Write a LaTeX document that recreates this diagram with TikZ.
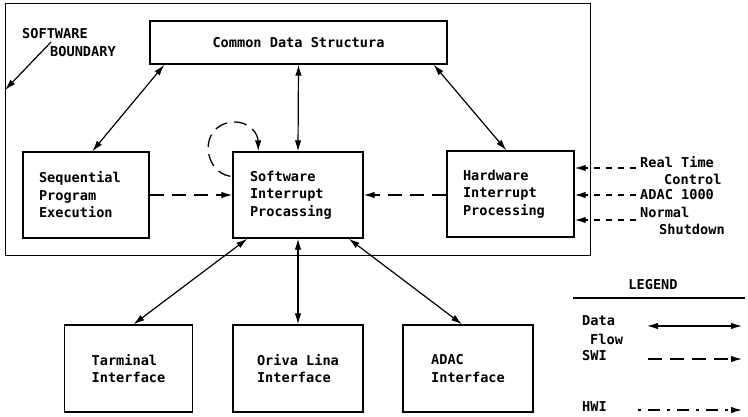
\documentclass[tikz,border=0pt]{standalone}
\usepackage{fontspec}
\newfontfamily\plotfont{DejaVu Sans Mono}
\usetikzlibrary{arrows.meta,calc}
\begin{document}
\begin{tikzpicture}[x=1pt,y=-1pt,
  txt/.style={font=\plotfont\bfseries\fontsize{13.6}{17.5}\selectfont, inner sep=0pt},
  boxed/.style={draw, line width=1.4pt, txt},
  lbox/.style={boxed, align=left, inner xsep=16pt, inner ysep=0pt},
  cbox/.style={boxed, align=left, minimum width=128pt, minimum height=87pt},
  dflow/.style={line width=1.2pt, {Latex[length=11pt,width=6.5pt]}-{Latex[length=11pt,width=6.5pt]}},
  swi/.style={line width=1.3pt, dash pattern=on 14pt off 8pt, -{Latex[length=11pt,width=6.5pt]}},
  inp/.style={line width=1.3pt, dash pattern=on 6pt off 6pt, -{Latex[length=11pt,width=6.5pt]}},
  hwi/.style={line width=1.3pt, dash pattern=on 3pt off 7pt on 12pt off 7pt, -{Latex[length=11pt,width=6.5pt]}}
]
\useasboundingbox (0,0) rectangle (748,416);
\fill[white] (0,0) rectangle (748,416);

% software boundary
\node[draw, line width=1.4pt, minimum width=585pt, minimum height=252pt, anchor=north west, inner sep=0pt] (boundary) at (5,3) {};
\node[txt, anchor=west] (swlab) at (22,34) {SOFTWARE};
\node[txt, anchor=west] (bdlab) at (50,52) {BOUNDARY};
\coordinate (bdstart) at (51,42);
\draw[line width=1.2pt, -{Latex[length=11pt,width=6.5pt]}] (bdstart) -- (boundary.west |- 0,90);

% boxes
\node[boxed, minimum width=297pt, minimum height=43pt] (common) at (298.5,42.5) {Common Data Structura};
\node[lbox, text width=94pt, minimum height=86pt] (seq) at (86,195) {Sequential\\Program\\Execution};
\node[lbox, inner xsep=17pt, text width=96pt, minimum height=86pt] (sw) at (298,195) {Software\\Interrupt\\Procassing};
\node[lbox, text width=95pt, minimum height=86pt] (hw) at (510.5,194) {Hardware\\Interrupt\\Processing};
\node[cbox] (term) at (128.5,368.5) {Tarminal\\Interface};
\node[cbox, minimum width=130pt] (drv) at (298,368.5) {Oriva Lina\\Interface};
\node[cbox, minimum width=130pt] (adac) at (468,368.5) {ADAC\\Interface};

% data flows
\draw[dflow] ($(common.south west)+(15,0)$) -- ($(seq.north west)+(70,0)$);
\draw[dflow] (common.south) -- (sw.north);
\draw[dflow] ($(common.south east)+(-14,0)$) -- ($(hw.north west)+(60,0)$);
\draw[dflow] ($(sw.south west)+(15,0)$) -- ($(term.north)+(5,0)$);
\draw[dflow] (sw.south) -- (drv.north);
\draw[dflow] ($(sw.south east)+(-15,0)$) -- ($(adac.north)+(-6,0)$);

% software interrupts
\draw[swi] (seq.east) -- (sw.west);
\draw[swi] (hw.west |- sw.east) -- (sw.east);
\draw[line width=1.3pt, dash pattern=on 13pt off 7pt, -{Latex[length=11pt,width=6.5pt]}]
  ($(sw.north west)+(-2,25)$) .. controls (203,172) and (198,126) .. (232,122)
  .. controls (250,121) and (258,134) .. ($(sw.north west)+(26,0)$);

% hardware inputs
\coordinate (in1) at (636,168);
\coordinate (in2) at (636,195);
\coordinate (in3) at (636,220);
\draw[inp] (in1) -- (hw.east |- in1);
\draw[inp] (in2) -- (hw.east |- in2);
\draw[inp] (in3) -- (hw.east |- in3);
\node[txt, anchor=west] (rt) at (640,162) {Real Time};
\node[txt, anchor=west] (ctl) at (664,179) {Control};
\node[txt, anchor=west] (ad) at (640,195) {ADAC 1000};
\node[txt, anchor=west] (nm) at (640,212) {Normal};
\node[txt, anchor=west] (sd) at (659,229) {Shutdown};

% legend
\node[txt] (leg) at (653,285) {LEGEND};
\coordinate (lg1) at (573,298);
\coordinate (lg2) at (745,298);
\draw[line width=1.3pt] (lg1) -- (lg2);
\node[txt, anchor=west] (ldata) at (582,321) {Data};
\node[txt, anchor=west] (lflow) at (590,339) {Flow};
\node[txt, anchor=west] (lswi) at (582,356) {SWI};
\node[txt, anchor=west] (lhwi) at (582,407) {HWI};
\coordinate (la1) at (647,326);
\coordinate (la2) at (742,326);
\coordinate (ls1) at (648,359);
\coordinate (ls2) at (742,359);
\coordinate (lh1) at (638,410);
\coordinate (lh2) at (742,410);
\draw[dflow] (la1) -- (la2);
\draw[swi] (ls1) -- (ls2);
\draw[hwi] (lh1) -- (lh2);
\end{tikzpicture}
\end{document}
